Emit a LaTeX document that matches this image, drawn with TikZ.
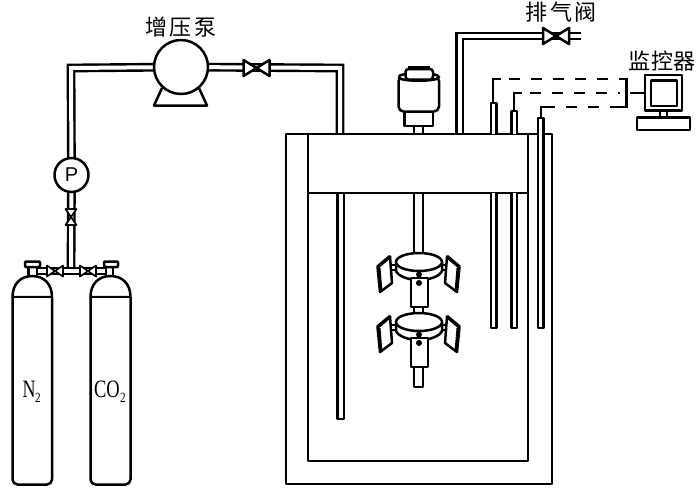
\documentclass[tikz,border=0pt]{standalone}
\usepackage{fontspec}
\usepackage{graphicx}
\setmainfont{Liberation Serif}
\newfontfamily\cjk{Noto Sans CJK SC}[Scale=1]
\newfontfamily\sansf{Liberation Sans}
\tikzset{
  x=1pt,y=-1pt,
  ln/.style={draw=black,line width=2.5pt,line join=round},
  thin ln/.style={draw=black,line width=2pt,line join=round},
  pipe/.style={draw=black,line width=2.4pt,double=white,double distance=4pt,line join=miter},
  wire/.style={draw=black,line width=2.4pt,dash pattern=on 11pt off 11pt},
  solidwire/.style={draw=black,line width=2.4pt},
  zh/.style={inner sep=0pt,font=\cjk\fontsize{22}{24}\selectfont,text=black},
  gasl/.style={inner sep=0pt,font=\fontsize{25}{26}\selectfont,text=black},
  valveh/.pic={\draw[ln,fill=white] (-13,-8) -- (0,0) -- (-13,8) -- cycle;
               \draw[ln,fill=white] (13,-8) -- (0,0) -- (13,8) -- cycle;},
  valvesm/.pic={\draw[draw=black,line width=1.7pt,line join=round,fill=white] (-8,-5.5) -- (0,0) -- (-8,5.5) -- cycle;
               \draw[draw=black,line width=1.7pt,line join=round,fill=white] (8,-5.5) -- (0,0) -- (8,5.5) -- cycle;},
}
\begin{document}
\begin{tikzpicture}
\useasboundingbox[fill=white] (0,0) rectangle (700,499);

% ---------- named anchors
\node[circle,minimum size=54pt,inner sep=0pt] (pump) at (181,67) {};
\node[circle,minimum size=34pt,inner sep=0pt] (gauge) at (71.5,175) {};
\coordinate (vesselin) at (340,134);
\coordinate (ventout) at (581,36);
\coordinate (ventin) at (459.5,134);
\coordinate (tee) at (71,271);

% ---------- pipes
\draw[pipe] (pump.center) -- (71,68) -- (gauge.center);
\draw[pipe] (pump.center) -- (340,68) -- (vesselin);
\draw[pipe] (gauge.center) -- (tee);
\draw[pipe] (37,271) -- (109,271);
\draw[pipe] (ventin) -- (459.5,36) -- (ventout);

% ---------- pump
\draw[ln,fill=white] (162,88) -- (154,105.5) -- (207,105.5) -- (199,88);
\draw[ln,fill=white] (pump) circle (27);

% ---------- gauge
\draw[ln,fill=white] (gauge) circle (17);
\node[inner sep=0pt,font=\sansf\fontsize{20}{20}\selectfont,text=black] (plabel) at (71.5,175) {P};

% ---------- valves
\pic at (256.5,68) {valveh};
\pic at (556,36) {valveh};
\pic[rotate=90] at (71,217) {valvesm};
\pic at (55,271) {valvesm};
\pic at (88,271) {valvesm};

% ---------- cylinders
\foreach \xa/\xb/\ca/\cb/\na/\nb in {12.5/52/25/40/28.5/37, 90.5/130.5/104/118/106/113}{
  \draw[ln,fill=white] (\na,277) -- (\na,267) -- (\nb,267) -- (\nb,277);
  \draw[ln,fill=white,rounded corners=1pt] (\ca,261.5) rectangle (\cb,267);
  \draw[ln,fill=white] (\xa,297) .. controls (\xa,284) and ({\xa+8},276) .. ({(\xa+\xb)/2},276)
     .. controls ({\xb-8},276) and (\xb,284) .. (\xb,297) -- cycle;
  \draw[ln,fill=white,rounded corners=5pt] (\xa,297) -- (\xa,484.5) -- (\xb,484.5) -- (\xb,297);
  \draw[ln] (\xa,297) -- (\xb,297);
}
\node[gasl] (n2) at (29,389) {\scalebox{.72}[1]{N}};
\node[inner sep=0pt,font=\fontsize{14}{14}\selectfont,text=black] (n2sub) at (38,398) {\scalebox{.8}[1]{2}};
\node[gasl] (co2) at (107,389) {\scalebox{.74}[1]{CO}};
\node[inner sep=0pt,font=\fontsize{14}{14}\selectfont,text=black] (co2sub) at (123,398) {\scalebox{.8}[1]{2}};

% ---------- vessel
\draw[ln] (286,484) rectangle (552,134);
\draw[ln,fill=white] (308,134) -- (308,461) -- (528,461) -- (528,134);
\draw[ln] (308,193) -- (528,193);
\draw[ln] (286,134) -- (552,134);
\draw[ln] (337.5,193) -- (337.5,419) -- (344,419) -- (344,193);

% ---------- probes
\draw[ln,fill=white] (491,134) -- (491,103) -- (496.5,103) -- (496.5,134);
\draw[ln,fill=white] (491,193) -- (491,328) -- (496.5,328) -- (496.5,193);
\draw[ln,fill=white] (511.5,134) -- (511.5,111) -- (517,111) -- (517,134);
\draw[ln,fill=white] (511.5,193) -- (511.5,328) -- (517,328) -- (517,193);
\draw[ln,fill=white] (538,328) -- (538,118) -- (543.5,118) -- (543.5,328) -- cycle;

% ---------- wires and monitor
\draw[solidwire] (493,103) -- (493,79) -- (501,79);
\draw[solidwire] (514,111) -- (514,93) -- (522,93);
\draw[solidwire] (541,118) -- (541,107) -- (555,107);
\draw[wire] (509,79) -- (626,79);
\draw[wire] (530,93) -- (620,93);
\draw[wire] (566,107) -- (626,107);
\draw[solidwire] (620,79) -- (626.5,79) -- (626.5,107) -- (612,107);
\draw[solidwire] (630,93) -- (645,93);
\draw[ln,fill=white] (660,111) rectangle (667,118);
\draw[ln,fill=white] (637,117.5) rectangle (690,130);
\draw[ln,fill=white] (645,75) rectangle (682,110.5);
\draw[ln,fill=white] (651,80.5) rectangle (677,106);

% ---------- stirrer
\draw[ln] (414,126) -- (414,134) (423,126) -- (423,134);
\draw[ln,fill=white] (404.5,110) rectangle (433,126);
\draw[ln,fill=white,rounded corners=5pt] (398.5,76) rectangle (439,111.5);
\draw[ln,fill=white] (398.5,77) .. controls (398.5,72) and (439,72) .. (439,77)
   .. controls (439,82) and (398.5,82) .. (398.5,77);
\draw[ln,fill=white,rounded corners=3pt] (405.5,69) rectangle (433,79.5);
\draw[line width=2pt] (408,67) -- (430,67);
\draw[ln] (414,193) -- (414,253) (423,193) -- (423,253);

\foreach \dy in {0,60}{
  \begin{scope}[yshift=-\dy pt]
  % arms
  \draw[thin ln] (386,265) -- (398,265) (386,269.5) -- (398,269.5);
  \draw[thin ln] (440,265) -- (452,265) (440,269.5) -- (452,269.5);
  % paddles
  \draw[ln,line width=2.5pt,fill=white] (377.5,267) -- (390,256.5) -- (392,283) -- (380,292) -- cycle;
  \draw[line width=3.5pt] (377.5,267) -- (390,256.5);
  \draw[line width=3pt] (379,268) -- (381,292);
  \draw[ln,line width=2.5pt,fill=white] (459.5,267) -- (447,256.5) -- (445,283) -- (457,292) -- cycle;
  \draw[line width=3.5pt] (459.5,267) -- (447,256.5);
  \draw[line width=3pt] (458,268) -- (456,292);
  % block
  \draw[ln,fill=white] (396,262) -- (396,271) .. controls (398,276) and (408,280) .. (419,280)
     .. controls (430,280) and (440,276) .. (442,271) -- (442,262) -- cycle;
  \draw[ln,fill=white] (411,278) rectangle (428,307);
  \draw[ln,fill=white] (419,262) ellipse (23 and 9);
  \fill[black] (419,274.5) circle (3);
  \fill[black] (419,283) circle (3);
  \end{scope}
}
\draw[ln] (414,307) -- (414,322-9) (423,307) -- (423,322-9);
\draw[ln] (414,367) -- (414,387) -- (423,387) -- (423,367);

% ---------- labels
\node[zh] (lpump) at (181,27) {增\hspace{3pt}压\hspace{3pt}泵};
\node[zh] (lvent) at (561,12) {排\hspace{3pt}气\hspace{3pt}阀};
\node[zh] (lmon) at (662,61) {监\hspace{1pt}控\hspace{1pt}器};
\end{tikzpicture}
\end{document}
